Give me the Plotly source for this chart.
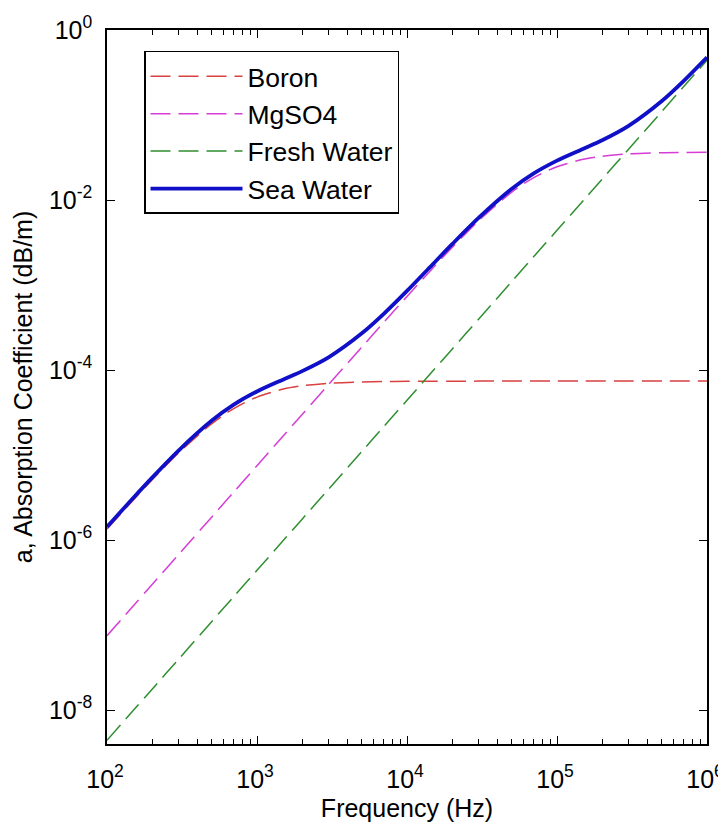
import plotly.graph_objects as go

# Frequency (Hz)
freq = [100, 150, 200, 300, 500, 700, 1000, 1500, 2000, 3000, 5000, 7000,
        1e4, 1.5e4, 2e4, 3e4, 5e4, 7e4, 1e5, 1.5e5, 2e5, 3e5, 5e5, 7e5, 1e6]

# Absorption coefficient (dB/m)
boron = [1.345e-6, 2.96e-6, 5.10e-6, 1.057e-5, 2.34e-5, 3.52e-5, 4.80e-5, 5.97e-5,
         6.52e-5, 6.98e-5, 7.24e-5, 7.32e-5, 7.36e-5, 7.38e-5, 7.39e-5, 7.4e-5,
         7.4e-5, 7.4e-5, 7.4e-5, 7.4e-5, 7.4e-5, 7.4e-5, 7.4e-5, 7.4e-5, 7.4e-5]

mgso4 = [7.49e-8, 1.685e-7, 3.0e-7, 6.74e-7, 1.87e-6, 3.67e-6, 7.49e-6, 1.685e-5,
         3.0e-5, 6.73e-5, 1.863e-4, 3.63e-4, 7.34e-4, 1.611e-3, 2.77e-3, 5.69e-3,
         1.24e-2, 1.835e-2, 2.46e-2, 3.01e-2, 3.27e-2, 3.48e-2, 3.60e-2, 3.63e-2, 3.65e-2]

fresh = [4.4e-9, 9.9e-9, 1.76e-8, 3.96e-8, 1.1e-7, 2.16e-7, 4.4e-7, 9.9e-7,
         1.76e-6, 3.96e-6, 1.1e-5, 2.16e-5, 4.4e-5, 9.9e-5, 1.76e-4, 3.96e-4,
         1.1e-3, 2.16e-3, 4.4e-3, 9.9e-3, 1.76e-2, 3.96e-2, 0.11, 0.216, 0.44]

sea = [1.424e-6, 3.14e-6, 5.42e-6, 1.128e-5, 2.54e-5, 3.91e-5, 5.59e-5, 7.75e-5,
       9.70e-5, 1.41e-4, 2.70e-4, 4.58e-4, 8.52e-4, 1.784e-3, 3.02e-3, 6.16e-3,
       1.357e-2, 2.058e-2, 2.907e-2, 4.01e-2, 5.04e-2, 7.45e-2, 0.146, 0.252, 0.477]

x_tickvals = [1e2, 1e3, 1e4, 1e5, 1e6]
x_ticktext = ["10<sup>2</sup>", "10<sup>3</sup>", "10<sup>4</sup>", "10<sup>5</sup>", "10<sup>6</sup>"]
y_tickvals = [1e-8, 1e-6, 1e-4, 1e-2, 1e0]
y_ticktext = ["10<sup>-8</sup>", "10<sup>-6</sup>", "10<sup>-4</sup>", "10<sup>-2</sup>", "10<sup>0</sup>"]
x_minor = [m * 10 ** e for e in range(2, 6) for m in range(2, 10)]

FONT = "Liberation Sans, Arial, sans-serif"
FS = 25

fig = go.Figure()
series = [
    ("Boron", boron, "#d94040", 1.5, "20px,8px"),
    ("MgSO4", mgso4, "#d63cd6", 1.5, "20px,8px"),
    ("Fresh Water", fresh, "#2f8f2f", 1.5, "20px,8px"),
    ("Sea Water", sea, "#1010c8", 3.8, "solid"),
]
for name, vals, color, width, dash in series:
    fig.add_trace(go.Scatter(
        x=freq, y=vals, mode="lines", name=name, legendgroup=name,
        line=dict(color=color, width=width, dash=dash, shape="spline", smoothing=0.8),
    ))

# The page body adds an 8px margin, so the figure is sized/offset to compensate.
fig.update_layout(
    width=718, height=819,
    margin=dict(l=99, r=19, t=22, b=83, autoexpand=False),
    paper_bgcolor="white", plot_bgcolor="white",
    font=dict(family=FONT, size=FS, color="black"),
    showlegend=True,
    legend=dict(
        x=0.0617, y=0.9706, xanchor="left", yanchor="top",
        bgcolor="white", bordercolor="black", borderwidth=1.5,
        font=dict(family=FONT, size=26.5, color="black"),
        itemwidth=92, tracegroupgap=4, traceorder="normal",
    ),
    xaxis=dict(
        type="log", range=[2, 6], automargin=False,
        tickvals=x_tickvals, ticktext=x_ticktext,
        ticklabelstandoff=12, ticklabelshift=-2,
        ticks="inside", ticklen=8, tickwidth=1.2, tickcolor="black",
        minor=dict(tickvals=x_minor, ticks="inside", ticklen=5, tickwidth=1.2, tickcolor="black"),
        showline=True, linecolor="black", linewidth=1.5, mirror="allticks",
        showgrid=False, zeroline=False,
        title=dict(text="Frequency (Hz)", font=dict(family=FONT, size=FS), standoff=8),
    ),
    yaxis=dict(
        type="log", range=[-8.4, 0], automargin=False,
        tickvals=y_tickvals, ticktext=y_ticktext, ticklabelstandoff=8,
        ticks="inside", ticklen=8, tickwidth=1.2, tickcolor="black",
        showline=True, linecolor="black", linewidth=1.5, mirror="allticks",
        showgrid=False, zeroline=False,
        title=dict(text="a, Absorption Coefficient (dB/m)", font=dict(family=FONT, size=FS), standoff=9),
    ),
)

fig.write_html("out.html")
